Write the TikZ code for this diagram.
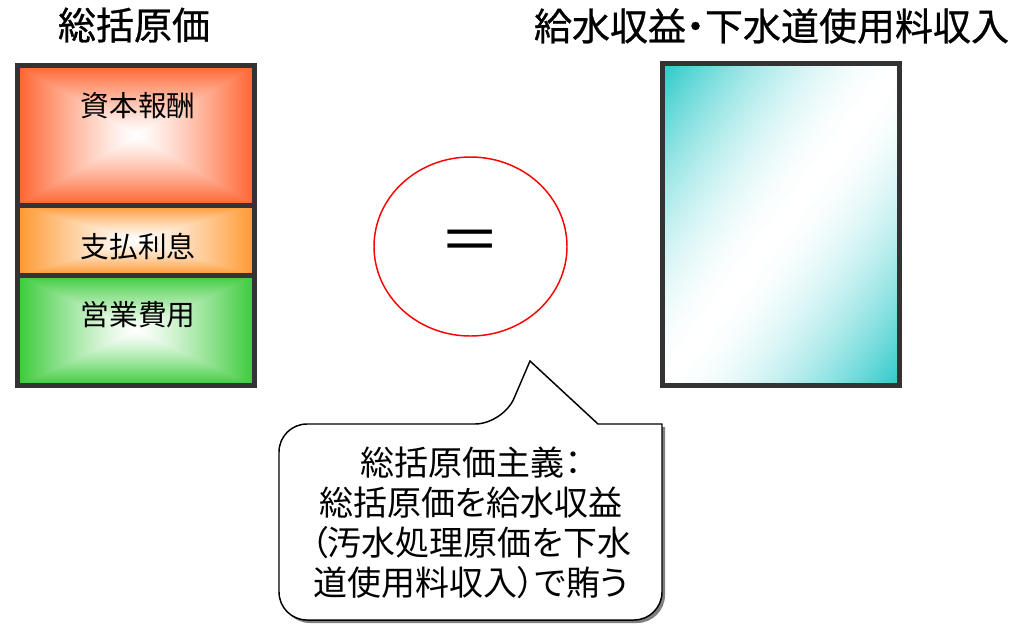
\documentclass[tikz,border=0pt]{standalone}
\usepackage{fontspec}
\setmainfont{Noto Sans CJK JP}
\newfontfamily\jp[RawFeature=+palt]{Noto Sans CJK JP}
\newfontfamily\jpt[RawFeature=+palt, FakeBold=0.7]{Noto Sans CJK JP}
\usetikzlibrary{shapes.geometric}
\definecolor{boxgray}{RGB}{51,51,51}
\pgfdeclarefunctionalshading{shadeA}{\pgfpoint{-50bp}{-50bp}}{\pgfpoint{50bp}{50bp}}{}{
 abs exch abs 2 copy lt {exch} if pop 24.5 div dup 1 gt {pop 1} if 1.25 exp
 dup 0 mul 1 exch sub exch dup 0.6 mul 1 exch sub exch 0.8 mul 1 exch sub}
\pgfdeclarefunctionalshading{shadeB}{\pgfpoint{-50bp}{-50bp}}{\pgfpoint{50bp}{50bp}}{}{
 abs exch abs 2 copy lt {exch} if pop 24.5 div dup 1 gt {pop 1} if 1.25 exp
 dup 0 mul 1 exch sub exch dup 0.4 mul 1 exch sub exch 0.8 mul 1 exch sub}
\pgfdeclarefunctionalshading{shadeC}{\pgfpoint{-50bp}{-50bp}}{\pgfpoint{50bp}{50bp}}{}{
 abs exch abs 2 copy lt {exch} if pop 24.5 div dup 1 gt {pop 1} if 1.25 exp
 dup 0.76 mul 1 exch sub exch dup 0.2 mul 1 exch sub exch 0.76 mul 1 exch sub}
\pgfdeclarefunctionalshading{shadeT}{\pgfpoint{-50bp}{-50bp}}{\pgfpoint{50bp}{50bp}}{}{
 sub abs 48 div dup 1 gt {pop 1} if 1.7 exp
 dup 0.78 mul 1 exch sub exch dup 0.2 mul 1 exch sub exch 0.2 mul 1 exch sub}
\tikzset{
  frame/.style={draw=boxgray, line width=3.75pt},
  title/.style={font=\jpt\fontsize{28.5}{32}\selectfont, inner sep=0pt},
  boxlabel/.style={font=\jp\fontsize{21.5}{24}\selectfont, inner sep=0pt},
  bubble/.style={draw=black, fill=white, line width=1.1pt},
  bubbleshadow/.style={fill=black!50, draw=none},
}
\begin{document}
\begin{tikzpicture}[x=0.75pt, y=-0.75pt]
\useasboundingbox (0,0) rectangle (1019,626);
% titles
\node[title] (t1) at (134,25) {総括原価};
\node[title] (t2) at (771.5,26) {給水収益・下水道使用料収入};
% left stack
\path[shading=shadeA] (17.5,65) rectangle (254.5,205);
\path[shading=shadeB] (17.5,205) rectangle (254.5,275);
\path[shading=shadeC] (17.5,275) rectangle (254.5,385.5);
\draw[frame] (17.5,205) -- (254.5,205);
\draw[frame] (17.5,275) -- (254.5,275);
\draw[frame] (17.5,65) rectangle (254.5,385.5);
\node[boxlabel] (l1) at (138,106) {資本報酬};
\node[boxlabel] (l2) at (138,246) {支払利息};
\node[boxlabel] (l3) at (138,315) {営業費用};
% right box
\path[shading=shadeT] (662.5,63.5) rectangle (899.5,385.5);
\draw[frame] (662.5,63.5) rectangle (899.5,385.5);
% ellipse with equals
\node[ellipse, draw=red, line width=1.1pt, minimum width=144.75pt, minimum height=134.25pt, inner sep=0pt,
      font=\fontsize{46}{48}\selectfont] (eq) at (470.5,246.5) {＝};
% callout
\coordinate (tip) at (530,361);
\begin{scope}[shift={(3,3)}]
\fill[bubbleshadow] (470,620) [rounded corners=21pt] -- (279,620) -- (279,424) -- (503,424) [sharp corners] -- (tip) -- (598,424) -- (662,424) [rounded corners=21pt] -- (662,620) -- cycle;
\end{scope}
\draw[bubble] (470,620) [rounded corners=21pt] -- (279,620) -- (279,424) -- (503,424) [sharp corners] -- (tip) -- (598,424) -- (662,424) [rounded corners=21pt] -- (662,620) -- cycle;
\node[align=center, inner sep=0pt, font=\jp\fontsize{25.5}{30}\selectfont] (ct) at (471,523)
  {総括原価主義：\\総括原価を給水収益\\（汚水処理原価を下水\\道使用料収入）で賄う};
\end{tikzpicture}
\end{document}
